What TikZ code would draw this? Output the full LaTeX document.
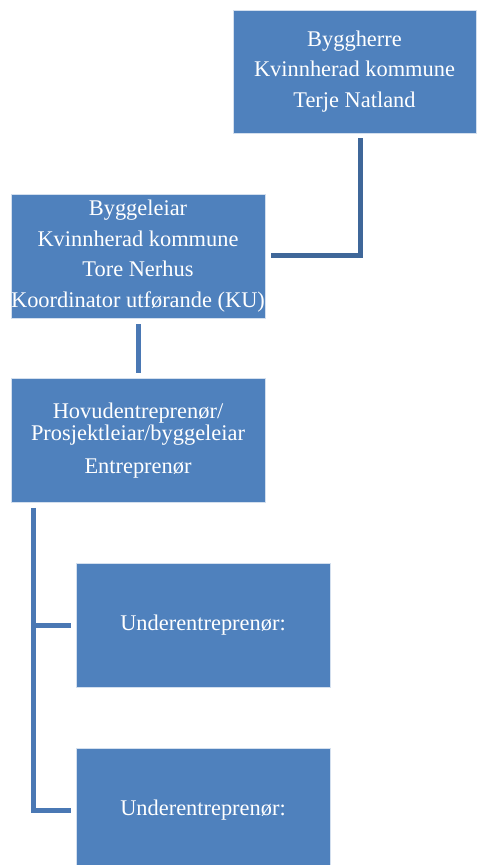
\documentclass[tikz,border=0pt]{standalone}
\usepackage{fontspec}
\setmainfont{Liberation Serif}
\definecolor{boxblue}{HTML}{4F81BD}
\definecolor{linkdark}{HTML}{3F6799}
\definecolor{linkblue}{HTML}{4A78B4}
\begin{document}
\begin{tikzpicture}[x=0.5pt, y=-0.5pt,
    orgbox/.style={draw=white!75!boxblue, line width=0.4pt, fill=boxblue, text=white,
        align=center, inner sep=0pt, minimum width=127pt, minimum height=62pt,
        font=\fontsize{11.2}{15.3}\selectfont},
    link/.style={draw=linkblue, line width=2.5pt}]
    \useasboundingbox (0,0) rectangle (477,865);
    \node[orgbox, minimum width=121.5pt, minimum height=61.5pt] (byggherre) at (354.5,71.5) {Byggherre\\Kvinnherad kommune\\Terje Natland};
    \node[orgbox] (byggeleiar) at (138,256) {Byggeleiar\\Kvinnherad kommune\\Tore Nerhus\\Koordinator utførande (KU)};
    \node[orgbox, font=\fontsize{11.2}{10.9}\selectfont] (hovud) at (138,440.5) {Hovudentreprenør/\\Prosjektleiar/byggeleiar\\[5.45pt]Entreprenør};
    \node[orgbox] (under1) at (203,625) {Underentreprenør:};
    \node[orgbox] (under2) at (203,810) {Underentreprenør:};
    \coordinate (spine) at ([xshift=11.25pt,yshift=-2.5pt]hovud.south west);
    \draw[link, draw=linkdark] ([xshift=2.75pt,yshift=-2.5pt]byggherre.south) |- ([xshift=3pt]byggeleiar.east);
    \draw[link] ([yshift=-3pt]byggeleiar.south) -- ([yshift=2.5pt]hovud.north);
    \draw[link] (spine) |- ([xshift=-2.5pt]under2.west);
    \draw[link] (spine |- under1.west) -- ([xshift=-2.5pt]under1.west);
\end{tikzpicture}
\end{document}
